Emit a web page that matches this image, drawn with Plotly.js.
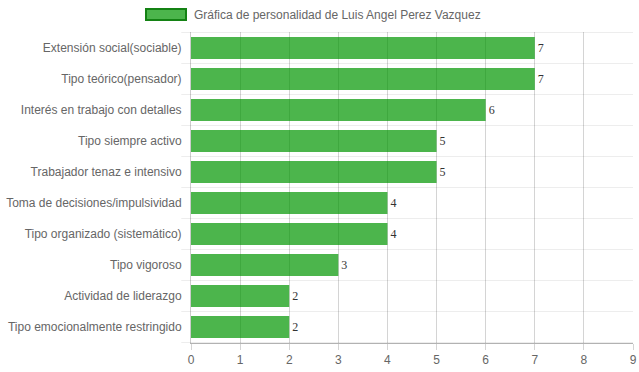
<!DOCTYPE html>
<html>
<head>
<meta charset="utf-8">
<script src="https://cdn.plot.ly/plotly-3.0.1.min.js"></script>
<style>html,body{margin:0;padding:0;background:#fff;}#chart{width:639px;height:372px;}</style>
</head>
<body>
<div id="chart"></div>
<script>
const categories = [
  "Extensión social(sociable)",
  "Tipo teórico(pensador)",
  "Interés en trabajo con detalles",
  "Tipo siempre activo",
  "Trabajador tenaz e intensivo",
  "Toma de decisiones/impulsividad",
  "Tipo organizado (sistemático)",
  "Tipo vigoroso",
  "Actividad de liderazgo",
  "Tipo emocionalmente restringido"
];
const values = [7, 7, 6, 5, 5, 4, 4, 3, 2, 2];
const seriesName = "Gráfica de personalidad de Luis Angel Perez Vazquez";
const xTicks = [0, 1, 2, 3, 4, 5, 6, 7, 8, 9];

const fillColor = "rgba(0,150,0,0.7)";
const borderColor = "rgb(20,130,20)";

const boundaryShapes = [];
for (let i = 0; i <= categories.length; i++) {
  boundaryShapes.push({
    type: "line", xref: "paper", yref: "y",
    x0: -0.022, x1: 1, y0: i - 0.5, y1: i - 0.5,
    line: {color: "rgba(0,0,0,0.07)", width: 1},
    layer: "below"
  });
}

const trace = {
  type: "bar",
  orientation: "h",
  y: categories,
  x: values,
  name: seriesName,
  marker: {color: fillColor, line: {width: 0}},
  text: values.map(String),
  textposition: "outside",
  cliponaxis: false,
  textfont: {family: "'Times New Roman', 'Liberation Serif', serif", size: 12, color: "#333"},
  hoverinfo: "none"
};

const layout = {
  width: 639, height: 372,
  margin: {l: 191, r: 6, t: 32, b: 29, pad: 0},
  paper_bgcolor: "#fff", plot_bgcolor: "#fff",
  showlegend: false,
  bargap: 0.29,
  font: {family: "Arial, 'Liberation Sans', Helvetica, sans-serif", size: 12, color: "#666"},
  xaxis: {
    range: [0, 9], tickvals: xTicks, ticktext: xTicks.map(String),
    showgrid: true, gridcolor: "rgba(0,0,0,0.17)", gridwidth: 1,
    zeroline: false, showline: true, linecolor: "rgba(0,0,0,0.3)", linewidth: 1,
    ticks: "outside", ticklen: 6, tickcolor: "rgba(0,0,0,0.17)",
    tickfont: {size: 12, color: "#666"}, fixedrange: true
  },
  yaxis: {
    type: "category", autorange: "reversed",
    showgrid: false, zeroline: false,
    showline: true, linecolor: "rgba(0,0,0,0.2)", linewidth: 1,
    ticks: "", ticklabelstandoff: 6,
    tickfont: {size: 12, color: "#666"}, fixedrange: true
  },
  shapes: boundaryShapes.concat([
    {type: "rect", xref: "paper", yref: "paper",
     x0: 0, x1: 0, y0: 0, y1: 0,
     fillcolor: fillColor, line: {color: borderColor, width: 2}, layer: "above"}
  ]),
  annotations: [
    {xref: "paper", yref: "paper", x: 0, y: 0, xanchor: "left", yanchor: "middle",
     text: seriesName, showarrow: false, font: {size: 12, color: "#666"}}
  ]
};

// Legend box placed in pixel terms
const plotW = 639 - 191 - 6, plotH = 372 - 32 - 29;
const px = x => (x - 191) / plotW;
const py = y => (372 - 29 - y) / plotH;
const legendRect = layout.shapes[layout.shapes.length - 1];
legendRect.x0 = px(146); legendRect.x1 = px(186);
legendRect.y0 = py(20); legendRect.y1 = py(9);
layout.annotations[0].x = px(192);
layout.annotations[0].y = py(14.5);

Plotly.newPlot("chart", [trace], layout, {staticPlot: true, displayModeBar: false});
</script>
</body>
</html>
